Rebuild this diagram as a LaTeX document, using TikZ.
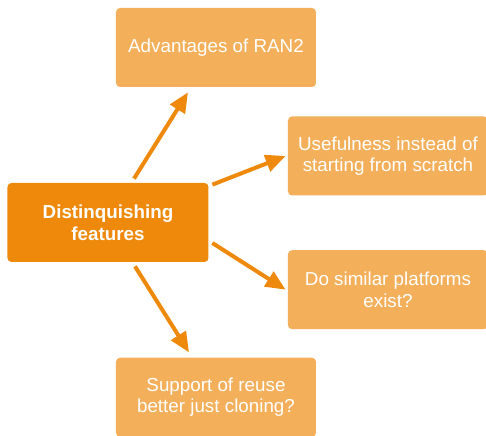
\documentclass[tikz,border=0pt]{standalone}
\usepackage{fontspec}
\setmainfont{Liberation Sans}
\usepackage{tikz}
\usetikzlibrary{positioning, arrows.meta, calc}
\definecolor{darkorange}{RGB}{239,137,11}
\definecolor{lightorange}{RGB}{244,175,90}

\begin{document}
\begin{tikzpicture}[
    darkbox/.style={rectangle, rounded corners=0.08cm, fill=darkorange, text=white, align=center, minimum width=4.02cm, minimum height=1.58cm, font=\fontsize{10.7}{12.3}\selectfont\bfseries},
    lightbox/.style={rectangle, rounded corners=0.08cm, fill=lightorange, text=white, align=center, minimum width=4.0cm, minimum height=1.58cm, font=\fontsize{10.7}{12.3}\selectfont},
    arr/.style={draw=darkorange, line width=0.08cm, -{Triangle[length=0.4cm, width=0.34cm]}},
]
\useasboundingbox (-2.16,4.45) rectangle (7.56,-4.27);
\node[darkbox](dist){Distinquishing\\features};
\node[lightbox](adv) at (2.16,3.5){Advantages of RAN2};
\node[lightbox](reuse)[below = 5.4cm of adv]{Support of reuse\\better just cloning?};
\node[lightbox](use) at (5.6,1.33){Usefulness instead of\\starting from scratch};
\node[lightbox](exist)[below = 1.08cm of use]{Do similar platforms\\exist?};
\draw[arr] ([xshift=0.52cm, yshift=0.08cm]dist.north) -- ([xshift=-0.56cm, yshift=-0.1cm]adv.south);
\draw[arr] ([xshift=0.07cm, yshift=-0.04cm]dist.north east) -- ([xshift=-0.04cm]use.west);
\draw[arr] ([xshift=0.07cm, yshift=-0.41cm]dist.east) -- ([xshift=-0.04cm]exist.west);
\draw[arr] ([xshift=0.54cm, yshift=-0.08cm]dist.south) -- ([xshift=-0.54cm, yshift=0.1cm]reuse.north);
\end{tikzpicture}
\end{document}
